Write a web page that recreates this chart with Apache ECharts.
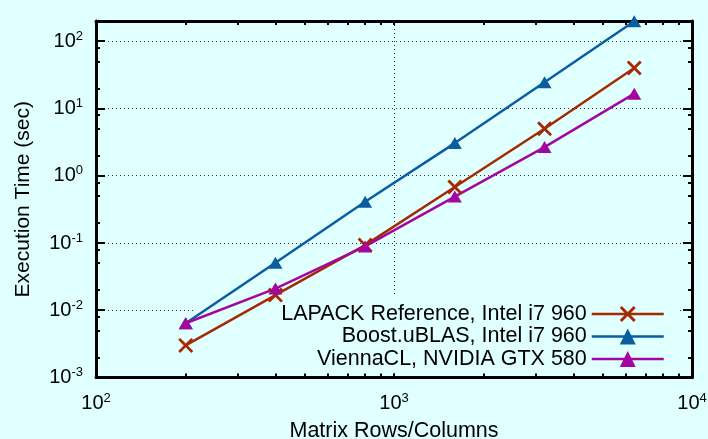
<!DOCTYPE html>
<html>
<head>
<meta charset="utf-8">
<script src="https://cdn.jsdelivr.net/npm/echarts@6/dist/echarts.min.js"></script>
<style>
  html, body { margin: 0; padding: 0; background: #e0ffff; }
  #chart { width: 708px; height: 439px; }
</style>
</head>
<body>
<div id="chart"></div>
<script>
// matrix sizes (x) and execution times in seconds (y)
const matrixSizes = [200, 400, 800, 1600, 3200, 6400]
const lapackTimes = [0.0030, 0.0168, 0.093, 0.68, 5.0, 40]
const boostTimes = [0.0064, 0.051, 0.41, 3.06, 24.6, 198]
const viennaTimes = [0.0064, 0.021, 0.089, 0.49, 2.67, 16.6]

const seriesNames = ['LAPACK Reference, Intel i7 960', 'Boost.uBLAS, Intel i7 960', 'ViennaCL, NVIDIA GTX 580']

// tick positions
const xMajorTicks = [100, 1000, 10000]
const xMinorTicks = [200, 300, 400, 500, 600, 700, 800, 900, 2000, 3000, 4000, 5000, 6000, 7000, 8000, 9000]
const yMajorTicks = [0.001, 0.01, 0.1, 1, 10, 100]
const yMinorTicks = [0.002, 0.005, 0.008, 0.02, 0.05, 0.08, 0.2, 0.5, 0.8, 2, 5, 8, 20, 50, 80]

const FONT = 'Liberation Sans, Arial, sans-serif'
const BG = '#e0ffff'
const colors = ['#a52a04', '#0b5d9f', '#a4079f']

// 10^n labels
const powLabel = v => '{b|10}{s|' + Math.round(Math.log10(v)) + '}'
const labelRich = {
  b: { fontSize: 20, fontFamily: FONT, color: '#000', lineHeight: 20 },
  s: { fontSize: 13, fontFamily: FONT, color: '#000', lineHeight: 13, padding: [0, 0, 10, 0] }
}

const dotted = { show: true, lineStyle: { color: '#333', width: 1, type: [1, 3] } }

const xCommon = { type: 'log', logBase: 10, min: 100, max: 10000, gridIndex: 0 }
const yCommon = { type: 'log', logBase: 10, min: 0.001, max: 200, gridIndex: 0 }

const makeAxis = (common, position, ticks, len, withLine) => Object.assign({}, common, {
  position: position,
  axisLine: { show: withLine, lineStyle: { color: '#000', width: 3 } },
  axisTick: { show: true, inside: true, length: len, customValues: ticks, lineStyle: { color: '#000', width: 2 } },
  axisLabel: { show: false },
  splitLine: { show: false }
})

const pairs = vals => matrixSizes.map((x, i) => [x, vals[i]])

const crossPath = 'path://M0,1.3L1.3,0L5,3.7L8.7,0L10,1.3L6.3,5L10,8.7L8.7,10L5,6.3L1.3,10L0,8.7L3.7,5Z'

const chart = echarts.init(document.getElementById('chart'))

const xMain = Object.assign(makeAxis(xCommon, 'bottom', xMajorTicks, 4, true), {
  axisLabel: { show: true, customValues: xMajorTicks, formatter: powLabel, rich: labelRich, margin: 16 },
  splitLine: dotted,
  name: 'Matrix Rows/Columns',
  nameLocation: 'middle',
  nameGap: 43,
  nameTextStyle: { fontSize: 21.5, fontFamily: FONT, color: '#000' }
})

const yMain = Object.assign(makeAxis(yCommon, 'left', yMajorTicks, 9, true), {
  axisLabel: { show: true, customValues: yMajorTicks, formatter: powLabel, rich: labelRich, margin: 13 },
  splitLine: dotted,
  name: 'Execution Time (sec)',
  nameLocation: 'middle',
  nameGap: 62,
  nameTextStyle: { fontSize: 21, fontFamily: FONT, color: '#000' }
})

const option = {
  backgroundColor: BG,
  animation: false,
  grid: { left: 96, right: 16, top: 21, bottom: 61.5, containLabel: false, outerBoundsMode: 'none' },
  xAxis: [
    xMain,
    makeAxis(xCommon, 'top', xMajorTicks, 4, true),
    makeAxis(xCommon, 'bottom', xMinorTicks, 4, false),
    makeAxis(xCommon, 'top', xMinorTicks, 4, false)
  ],
  yAxis: [
    yMain,
    makeAxis(yCommon, 'right', yMajorTicks, 9, true),
    makeAxis(yCommon, 'left', yMinorTicks, 4, false),
    makeAxis(yCommon, 'right', yMinorTicks, 4, false)
  ],
  legend: {
    data: seriesNames,
    orient: 'vertical',
    align: 'right',
    right: 30,
    top: 295,
    z: 1,
    itemWidth: 72,
    itemHeight: 20,
    itemGap: 0.5,
    backgroundColor: BG,
    padding: [8, 13, 2, 86],
    lineStyle: { width: 2.5 },
    textStyle: { fontSize: 21.5, fontFamily: FONT, color: '#000', lineHeight: 20 }
  },
  series: [
    {
      name: seriesNames[0], type: 'line', data: pairs(lapackTimes),
      symbol: crossPath, symbolSize: 15,
      lineStyle: { color: colors[0], width: 2.5 }, itemStyle: { color: colors[0] }
    },
    {
      name: seriesNames[1], type: 'line', data: pairs(boostTimes),
      symbol: 'triangle', symbolSize: [14, 12],
      lineStyle: { color: colors[1], width: 2.5 }, itemStyle: { color: colors[1] }
    },
    {
      name: seriesNames[2], type: 'line', data: pairs(viennaTimes),
      symbol: 'triangle', symbolSize: [14, 12],
      lineStyle: { color: colors[2], width: 2.5 }, itemStyle: { color: colors[2] }
    }
  ]
}

chart.setOption(option)
</script>
</body>
</html>
